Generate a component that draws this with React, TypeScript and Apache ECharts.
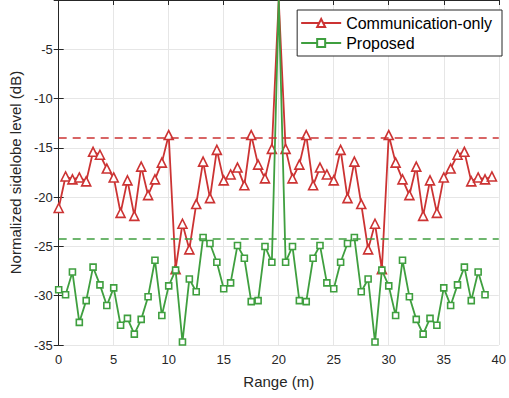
import React, { useEffect, useRef } from "react";
import * as echarts from "echarts";

const rangeStep = 0.625;
const commOnly = [
  -21.1, -17.9, -18.2, -18.0, -18.4, -15.4, -15.7, -17.1, -18.0, -21.6, -18.3, -21.9, -16.9, -19.8, -18.2, -16.5,
  -13.7, -27.3, -22.7, -25.3, -20.7, -16.4, -20.1, -15.2, -18.3, -17.7, -17.0, -18.8, -13.7, -16.7, -18.1, -15.1,
  0,
  -15.1, -18.1, -16.7, -13.7, -18.8, -17.0, -17.7, -18.3, -15.2, -20.1, -16.4, -20.7, -25.3, -22.7, -27.3, -13.7,
  -16.5, -18.2, -19.8, -16.9, -21.9, -18.3, -21.6, -18.0, -17.1, -15.7, -15.4, -18.4, -18.0, -18.2, -17.9,
];
const proposed = [
  -29.4, -29.9, -27.6, -32.7, -30.5, -27.1, -28.9, -31.0, -29.2, -33.0, -32.3, -33.9, -32.4, -30.1, -26.4, -32.0,
  -29.0, -27.4, -34.7, -28.3, -29.6, -24.1, -24.7, -26.6, -29.3, -28.7, -24.9, -26.2, -30.6, -30.5, -25.0, -26.6,
  0,
  -26.6, -25.0, -30.5, -30.6, -26.2, -24.9, -28.7, -29.3, -26.6, -24.7, -24.1, -29.6, -28.3, -34.7, -27.4, -29.0,
  -32.0, -26.4, -30.1, -32.4, -33.9, -32.3, -33.0, -29.2, -31.0, -28.9, -27.1, -30.5, -27.6, -29.9,
];
const commThreshold = -14.0;
const propThreshold = -24.2;
const seriesNames = ["Communication-only", "Proposed"];

const RED = "#cc3333";
const GREEN = "#3f9f3f";
const AXIS = "#262626";
const FONT = "Liberation Sans, Arial, sans-serif";

export default function App() {
  const ref = useRef<HTMLDivElement>(null);
  useEffect(() => {
    const chart = echarts.init(ref.current!, null, { renderer: "svg" });
    // the main-lobe point sits on the top edge and its marker is clipped away in the reference
    const toItems = (arr: number[]) =>
      arr.map((v, i) => (v >= 0 ? { value: [i * rangeStep, v], symbol: "none" } : { value: [i * rangeStep, v] }));
    const tickCommon = {
      axisLine: { show: true, lineStyle: { color: AXIS, width: 1 } },
      axisTick: { show: true, inside: true, length: 5, lineStyle: { color: AXIS } },
    };
    chart.setOption({
      animation: false,
      backgroundColor: "#fff",
      textStyle: { fontFamily: FONT },
      grid: { left: 55, right: 7, top: 0, bottom: 53, containLabel: false },
      legend: {
        right: 7,
        top: 10,
        orient: "vertical",
        backgroundColor: "#fff",
        borderColor: AXIS,
        borderWidth: 1,
        padding: [5, 10, 5, 3],
        itemGap: 4,
        itemWidth: 40,
        itemHeight: 10,
        textStyle: { fontSize: 16, color: "#000", fontFamily: FONT },
        data: seriesNames,
      },
      xAxis: [
        {
          type: "value",
          min: 0,
          max: 40,
          interval: 5,
          name: "Range (m)",
          nameLocation: "middle",
          nameGap: 29,
          nameTextStyle: { fontSize: 15, color: AXIS },
          axisLabel: { fontSize: 13, color: AXIS, margin: 8 },
          splitLine: { show: true, lineStyle: { color: "#e6e6e6" } },
          ...tickCommon,
        },
        {
          type: "value",
          position: "top",
          min: 0,
          max: 40,
          interval: 5,
          axisLabel: { show: false },
          splitLine: { show: false },
          ...tickCommon,
        },
      ],
      yAxis: [
        {
          type: "value",
          min: -35,
          max: 0,
          interval: 5,
          name: "Normalized sidelobe level (dB)",
          nameLocation: "middle",
          nameGap: 34,
          nameTextStyle: { fontSize: 15, color: AXIS },
          axisLabel: { fontSize: 13, color: AXIS, margin: 6, showMaxLabel: false },
          splitLine: { show: true, lineStyle: { color: "#e6e6e6" } },
          ...tickCommon,
        },
        {
          type: "value",
          position: "right",
          min: -35,
          max: 0,
          interval: 5,
          axisLabel: { show: false },
          splitLine: { show: false },
          ...tickCommon,
        },
      ],
      series: [
        {
          name: seriesNames[0],
          type: "line",
          data: toItems(commOnly),
          symbol: "triangle",
          symbolSize: 9,
          lineStyle: { color: RED, width: 1.8 },
          itemStyle: { color: "#fff", borderColor: RED, borderWidth: 1.6 },
          z: 3,
          markLine: {
            silent: true,
            symbol: "none",
            label: { show: false },
            lineStyle: { color: RED, type: [8, 6], width: 1.6 },
            data: [{ yAxis: commThreshold }],
          },
        },
        {
          name: seriesNames[1],
          type: "line",
          data: toItems(proposed),
          symbol: "rect",
          symbolSize: 6,
          lineStyle: { color: GREEN, width: 1.8 },
          itemStyle: { color: "#fff", borderColor: GREEN, borderWidth: 1.6 },
          z: 4,
          markLine: {
            silent: true,
            symbol: "none",
            label: { show: false },
            lineStyle: { color: GREEN, type: [8, 6], width: 1.6 },
            data: [{ yAxis: propThreshold }],
          },
        },
      ],
    });
    return () => chart.dispose();
  }, []);
  return <div ref={ref} style={{ width: 509, height: 398, position: "absolute", left: 0, top: 0 }} />;
}
